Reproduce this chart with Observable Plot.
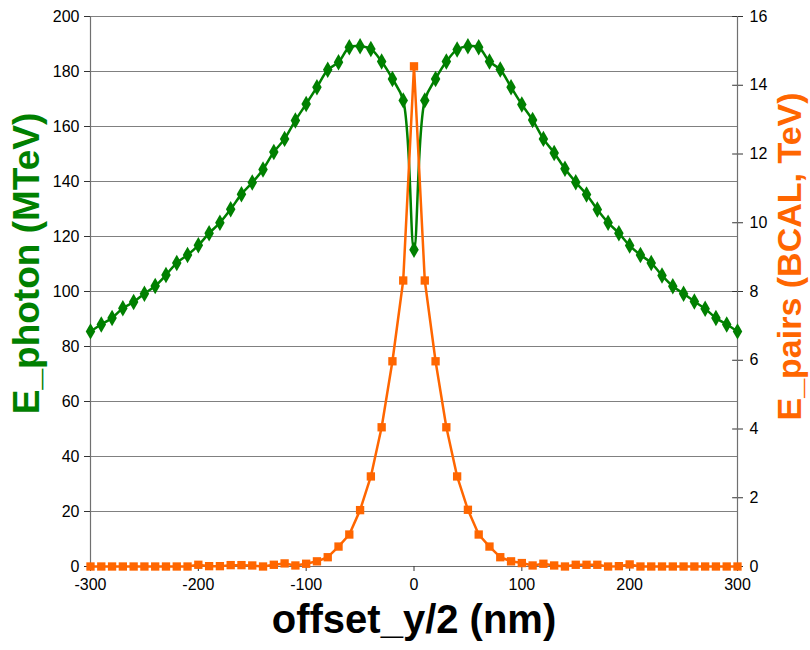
<!DOCTYPE html>
<html>
<head>
<meta charset="utf-8">
<script src="https://cdn.jsdelivr.net/npm/d3@7"></script>
<script src="https://cdn.jsdelivr.net/npm/@observablehq/plot@0.6"></script>
<style>
  html, body { margin: 0; padding: 0; background: #fff; }
</style>
</head>
<body>
<div id="chart"></div>
<script>
const offsets = [-300,-290,-280,-270,-260,-250,-240,-230,-220,-210,-200,-190,-180,-170,-160,-150,-140,-130,-120,-110,-100,-90,-80,-70,-60,-50,-40,-30,-20,-10,0,10,20,30,40,50,60,70,80,90,100,110,120,130,140,150,160,170,180,190,200,210,220,230,240,250,260,270,280,290,300];
const ePhoton = [85.5,88,90.4,93.9,96.2,99.2,102,106,110.4,113.3,116.8,121.2,125,129.9,135.4,139.6,144.4,150.7,155.5,162.2,168.2,174.3,180.6,183.4,188.8,189.2,188.2,183.6,177.3,169.5,115.2,169.5,177.3,183.6,188,189.2,188.8,183.6,180.7,174.3,168,162.4,155.5,150.4,144.6,139.7,135.3,129.8,125,121.2,116.7,113.3,110.4,105.8,101.9,99.2,96.4,93.7,90.4,88,85.5];
const ePairs = [0,0,0,0,0,0,0,0,0,0,0.05,0.01,0.01,0.04,0.04,0.03,0,0.05,0.09,0.03,0.08,0.15,0.27,0.58,0.93,1.64,2.62,4.05,5.97,8.32,14.55,8.32,5.97,4.05,2.62,1.65,0.93,0.58,0.27,0.15,0.1,0.03,0.08,0.03,0,0.05,0.05,0.05,0,0.01,0.06,0,0,0,0,0,0,0,0,0,0];
const leftTicks = [0,20,40,60,80,100,120,140,160,180,200];
const rightTicks = [0,2,4,6,8,10,12,14,16];
const xTicks = [-300,-200,-100,0,100,200,300];
const leftTitle = "E_photon (MTeV)";
const rightTitle = "E_pairs (BCAL, TeV)";
const xTitle = "offset_y/2 (nm)";

const k = 200 / 16; // right-axis to left-axis scale factor
const photon = offsets.map((x, i) => ({x, y: ePhoton[i]}));
const pairs = offsets.map((x, i) => ({x, y: ePairs[i] * k}));

const green = "#008000";
const orange = "#FF6600";

const chart = Plot.plot({
  width: 810,
  height: 650,
  marginLeft: 90,
  marginRight: 73,
  marginTop: 16,
  marginBottom: 84,
  x: {type: "linear", domain: [-300, 300]},
  y: {type: "linear", domain: [0, 200]},
  style: {fontFamily: "'Liberation Sans', Arial, sans-serif", fontSize: "16px", color: "#000", background: "#fff"},
  marks: [
    Plot.gridY(leftTicks, {stroke: "#808080", strokeOpacity: 1, strokeWidth: 1}),
    Plot.ruleX([-300, 300], {stroke: "#707070", strokeWidth: 1.2}),
    Plot.ruleY([0], {stroke: "#707070", strokeWidth: 1.2}),
    Plot.axisY(leftTicks, {anchor: "left", tickSize: 6, tickPadding: 5, label: null, stroke: "#333", fontSize: 16, tickFormat: d => String(d)}),
    Plot.axisY(rightTicks.map(d => d * k), {anchor: "right", tickSize: 5, tickPadding: 7, label: null, stroke: "#333", tickFormat: d => String(Math.round(d / k)), fontSize: 16}),
    Plot.ruleY(rightTicks.map(d => d * k), {x1: 295.5, x2: 300, stroke: "#333"}),
    Plot.axisX(xTicks, {tickSize: 5, tickPadding: 7, label: null, stroke: "#333", fontSize: 16, tickFormat: d => String(d)}),
    Plot.line(photon, {x: "x", y: "y", stroke: green, strokeWidth: 2.5, curve: "catmull-rom"}),
    Plot.dot(photon, {x: "x", y: "y", symbol: "diamond", r: 5, fill: green, stroke: null}),
    Plot.line(pairs, {x: "x", y: "y", stroke: orange, strokeWidth: 2.5}),
    Plot.dot(pairs, {x: "x", y: "y", symbol: "square", r: 4.7, fill: orange, stroke: null}),
    Plot.text([leftTitle], {frameAnchor: "left", textAnchor: "middle", dx: -63, dy: -28, rotate: -90, fontSize: 37, fontWeight: "bold", fill: green}),
    Plot.text([rightTitle], {frameAnchor: "right", textAnchor: "middle", dx: 53, dy: -35, rotate: -90, fontSize: 34, fontWeight: "bold", fill: orange}),
    Plot.text([xTitle], {frameAnchor: "bottom", dy: 66, fontSize: 40, fontWeight: "bold", fill: "#000"})
  ]
});
document.getElementById("chart").appendChild(chart);
</script>
</body>
</html>
